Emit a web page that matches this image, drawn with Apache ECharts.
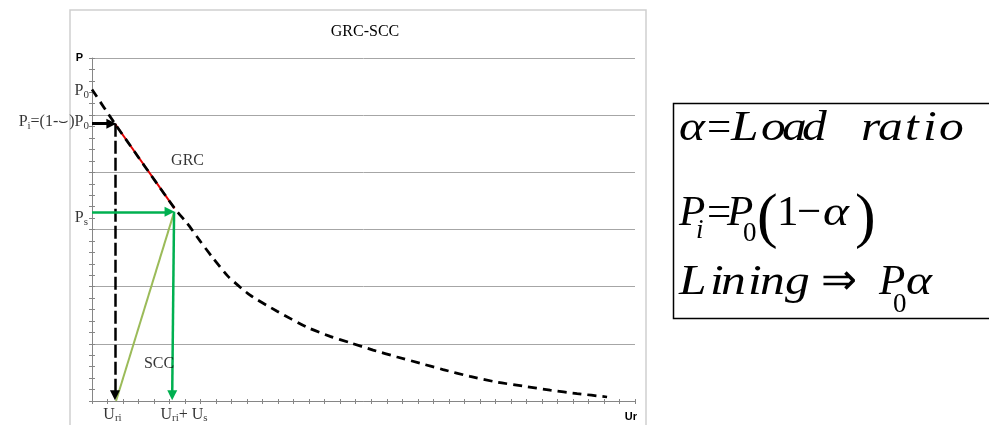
<!DOCTYPE html>
<html><head><meta charset="utf-8">
<script src="https://cdn.jsdelivr.net/npm/echarts@6/dist/echarts.min.js"></script>
<style>html,body{margin:0;padding:0;background:#fff}#c{width:989px;height:425px}</style>
</head><body><div id="c"></div>
<script>
// ---- data ----
const titleText = 'GRC-SCC';
const xName = 'Ur';
const yName = 'P';
// dashed GRC curve (x = Ur units, y = P units)
const curveX = [0, 1.48, 5.35, 6.13, 6.96, 7.80, 8.77, 10.19, 11.93, 13.86, 15.35, 16.63, 18.12, 19.67, 21.15, 22.63, 24.37, 26.11, 27.79, 29.53, 31.27, 33.2];
const curveY = [5.45, 4.85, 3.36, 3.11, 2.80, 2.50, 2.18, 1.85, 1.57, 1.29, 1.13, 1.02, 0.89, 0.77, 0.66, 0.55, 0.43, 0.33, 0.26, 0.19, 0.13, 0.07];
// red GRC segment
const redX = [1.48, 5.32];
const redY = [4.85, 3.37];
// light green SCC line
const sccX = [5.29, 1.55];
const sccY = [3.30, 0.0];
// arrows [x0, y0, x1, y1]
const arrowPi = [0, 4.85, 1.25, 4.85];
const arrowUri = [1.48, 4.85, 1.48, 0.1];
const arrowPs = [0, 3.31, 5.0, 3.31];
const arrowUs = [5.29, 3.31, 5.17, 0.1];
// annotation labels
const annText = ['{n|P}{s|0}', '{n|P}{s|i}{n|=(1-⌣)P}{s|0}', '{n|P}{s|s}', '{n|GRC}', '{n|SCC}', '{n|U}{s|ri}', '{n|U}{s|ri}{n|+ U}{s|s}'];
const annX = [0, 0, 0, 6.16, 4.32, 1.32, 5.93];
const annY = [5.42, 4.88, 3.20, 4.20, 0.65, 0, 0];
// formula box glyphs
const formulaLines = [
  ['α', '=', 'L', 'o', 'a', 'd', 'r', 'a', 't', 'i', 'o'],
  ['P', 'i', '=', 'P', '0', '(', '1', '−', 'α', ')'],
  ['L', 'i', 'n', 'i', 'n', 'g', '⇒', 'P', '0', 'α']
];

// ---- chart ----
const chart = echarts.init(document.getElementById('c'), null, {renderer: 'canvas'});
const serif = '"Liberation Serif", "Times New Roman", serif';
const axisGray = '#868686';

const annPos = ['left', 'left', 'left', 'inside', 'inside', 'bottom', 'bottom'];
const annDist = [3, 3, 4, 0, 0, 4, 4];

function seg(a) { return [[a[0], a[1]], [a[2], a[3]]]; }

// formula layout (pixels): [x, baseline, fontSize, italic]
const fLayout = [
  [[679, 143, 43, 1], [707, 143, 43, 0], [731, 143, 43, 1], [761, 143, 43, 1], [782, 143, 43, 1], [802, 143, 43, 1],
   [861, 143, 43, 1], [878, 143, 43, 1], [905, 143, 43, 1], [923, 143, 43, 1], [939, 143, 43, 1]],
  [[679, 228, 43, 1], [696, 240, 27, 1], [707, 228, 43, 0], [727, 228, 43, 1], [743, 243, 27, 0], [757, 241, 62, 0],
   [777, 228, 43, 0], [797, 228, 43, 0], [823, 228, 43, 1], [855, 241, 62, 0]],
  [[679, 297, 43, 1], [710, 297, 43, 1], [721, 297, 43, 1], [748, 297, 43, 1], [760, 297, 43, 1], [785, 297, 43, 1],
   [821, 297, 43, 0], [879, 297, 43, 1], [893, 314, 27, 0], [906, 297, 43, 1]]
];
const formulaTexts = [];
formulaLines.forEach((line, li) => {
  line.forEach((t, ti) => {
    const L = fLayout[li][ti];
    formulaTexts.push({
      type: 'text',
      x: L[0], y: L[1] - 0.34 * L[2],
      scaleX: (L[3] && t !== 'P' && L[2] > 30) ? 1.15 : 1,
      silent: true,
      style: {
        text: t, x: 0, y: 0,
        font: (L[3] ? 'italic ' : '') + L[2] + 'px ' + serif,
        fill: '#000', textAlign: 'left', align: 'left',
        textVerticalAlign: 'middle', verticalAlign: 'middle'
      }
    });
  });
});

const option = {
  animation: false,
  backgroundColor: '#fff',
  title: {
    text: titleText, left: 360, top: 19, textAlign: 'center',
    textStyle: {fontFamily: serif, fontSize: 16, fontWeight: 'normal', color: '#000'}
  },
  grid: {left: 92, top: 58, width: 543, height: 343, containLabel: false},
  xAxis: [
    {
      type: 'value', min: 0, max: 35, interval: 1, position: 'bottom',
      axisLine: {show: true, lineStyle: {color: axisGray, width: 1}},
      axisTick: {show: true, inside: false, length: 3, lineStyle: {color: axisGray}},
      axisLabel: {show: false}, splitLine: {show: false},
      name: xName, nameLocation: 'end', nameGap: 2,
      nameTextStyle: {fontFamily: 'Liberation Sans, Arial, sans-serif', fontWeight: 'bold', fontSize: 11, color: '#000', align: 'right', verticalAlign: 'top', padding: [10, 0, 0, 0]}
    },
    {
      type: 'value', min: 0, max: 35, interval: 1, position: 'bottom',
      axisLine: {show: false}, axisTick: {show: true, inside: true, length: 2, lineStyle: {color: axisGray}},
      axisLabel: {show: false}, splitLine: {show: false}
    }
  ],
  yAxis: [
    {
      type: 'value', min: 0, max: 6, interval: 1, position: 'left',
      axisLine: {show: true, lineStyle: {color: axisGray, width: 1}},
      axisTick: {show: true, inside: false, length: 3, lineStyle: {color: axisGray}},
      minorTick: {show: true, splitNumber: 5, length: 3, lineStyle: {color: axisGray}},
      axisLabel: {show: false},
      splitLine: {show: true, lineStyle: {color: '#A6A6A6', width: 1}},
      minorSplitLine: {show: false},
      name: yName, nameLocation: 'end', nameGap: 0,
      nameTextStyle: {fontFamily: 'Liberation Sans, Arial, sans-serif', fontWeight: 'bold', fontSize: 11, color: '#000', align: 'right', verticalAlign: 'middle', padding: [0, 9, 0, 0]}
    },
    {
      type: 'value', min: 0, max: 6, interval: 1, position: 'left',
      axisLine: {show: false},
      axisTick: {show: true, inside: true, length: 3, lineStyle: {color: axisGray}},
      minorTick: {show: true, splitNumber: 5, length: 3, lineStyle: {color: axisGray}},
      axisLabel: {show: false}, splitLine: {show: false}
    }
  ],
  series: [
    {
      type: 'line', xAxisIndex: 0, yAxisIndex: 0, symbol: 'none', z: 3,
      data: redX.map((x, i) => [x, redY[i]]),
      lineStyle: {color: '#E00000', width: 2}
    },
    {
      type: 'line', xAxisIndex: 0, yAxisIndex: 0, symbol: 'none', z: 4, smooth: 0.2,
      data: curveX.map((x, i) => [x, curveY[i]]),
      lineStyle: {color: '#000', width: 2.75, type: [9, 6]}
    },
    {
      type: 'line', xAxisIndex: 0, yAxisIndex: 0, symbol: 'none', z: 3,
      data: sccX.map((x, i) => [x, sccY[i]]),
      lineStyle: {color: '#9BBB59', width: 2}
    },
    {
      type: 'lines', coordinateSystem: 'cartesian2d', xAxisIndex: 0, yAxisIndex: 0, z: 5,
      symbol: ['none', 'triangle'], symbolSize: 10,
      data: [{coords: seg(arrowPi)}],
      lineStyle: {color: '#000', width: 3, opacity: 1}
    },
    {
      type: 'lines', coordinateSystem: 'cartesian2d', xAxisIndex: 0, yAxisIndex: 0, z: 5,
      symbol: ['none', 'triangle'], symbolSize: 10,
      data: [{coords: seg(arrowUri)}],
      lineStyle: {color: '#000', width: 2.5, type: [13, 4], opacity: 1}
    },
    {
      type: 'lines', coordinateSystem: 'cartesian2d', xAxisIndex: 0, yAxisIndex: 0, z: 6,
      symbol: ['none', 'triangle'], symbolSize: 10,
      data: [{coords: seg(arrowPs)}, {coords: seg(arrowUs)}],
      lineStyle: {color: '#00B050', width: 2.5, opacity: 1}
    },
    {
      type: 'scatter', xAxisIndex: 0, yAxisIndex: 0, symbolSize: 0, z: 7, silent: true,
      label: {
        show: true, color: '#000',
        rich: {
          n: {fontFamily: serif, fontSize: 16, color: '#000', lineHeight: 19},
          s: {fontFamily: serif, fontSize: 11, color: '#000', lineHeight: 19, verticalAlign: 'bottom'}
        }
      },
      data: annText.map((t, i) => ({
        value: [annX[i], annY[i]],
        label: {formatter: t, position: annPos[i], distance: annDist[i]}
      }))
    }
  ],
  graphic: [
    {type: 'rect', shape: {x: 70, y: 10, width: 576, height: 430}, style: {fill: 'none', stroke: '#CFCFCF', lineWidth: 1.5}, z: -1, silent: true},
    {type: 'rect', shape: {x: 673.5, y: 103.5, width: 330, height: 215}, style: {fill: 'none', stroke: '#000', lineWidth: 1.5}, silent: true}
  ].concat(formulaTexts)
};
chart.setOption(option);
</script>
</body></html>
